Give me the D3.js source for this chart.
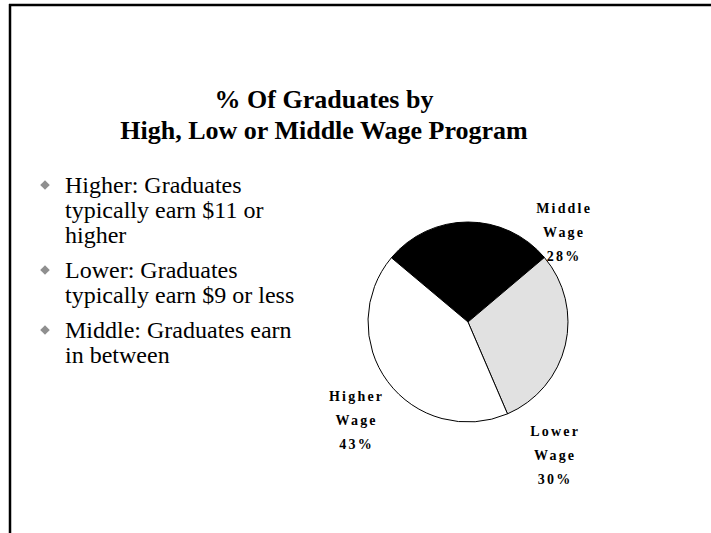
<!DOCTYPE html>
<html>
<head>
<meta charset="utf-8">
<script src="https://cdn.jsdelivr.net/npm/d3@7"></script>
<style>
  html, body { margin: 0; padding: 0; background: #fff; }
  svg { display: block; }
</style>
</head>
<body>
<svg id="chart" width="711" height="533"></svg>
<script>
// ---- data ----
const titleLines = ["% Of Graduates by", "High, Low or Middle Wage Program"];
const categories = ["Middle", "Lower", "Higher"];
const values = [28, 30, 43];
const sliceColors = ["#000000", "#e1e1e1", "#ffffff"];
const bullets = [
  ["Higher: Graduates", "typically earn $11 or", "higher"],
  ["Lower: Graduates", "typically earn $9 or less"],
  ["Middle: Graduates earn", "in between"]
];

const svg = d3.select("#chart");
const serif = "Liberation Serif";

// slide frame (top and left edges)
svg.append("line").attr("x1", 9).attr("x2", 711).attr("y1", 5).attr("y2", 5)
  .attr("stroke", "#000").attr("stroke-width", 2.5);
svg.append("line").attr("x1", 10).attr("x2", 10).attr("y1", 4).attr("y2", 533)
  .attr("stroke", "#000").attr("stroke-width", 2.5);

// title
const title = svg.append("text")
  .attr("text-anchor", "middle")
  .attr("font-family", serif).attr("font-weight", "bold").attr("font-size", 26);
titleLines.forEach((ln, i) => {
  title.append("tspan").attr("x", 324).attr("y", 108 + i * 31).text(ln);
});

// bullets
const bulletG = svg.append("g");
let y = 193;
bullets.forEach(lines => {
  bulletG.append("path")
    .attr("d", d3.symbol().type(d3.symbolSquare).size(46)())
    .attr("transform", `translate(45,${y - 8}) rotate(45)`)
    .attr("fill", "#8f8f8f");
  lines.forEach(ln => {
    bulletG.append("text")
      .attr("x", 65).attr("y", y)
      .attr("font-family", serif).attr("font-size", 24)
      .attr("fill", "#000")
      .text(ln);
    y += 25;
  });
  y += 10;
});

// pie
const cx = 468, cy = 322, r = 100;
const a0 = -50 * Math.PI / 180;
const pie = d3.pie().sort(null).value(d => d.v).startAngle(a0).endAngle(a0 + 2 * Math.PI);
const data = categories.map((c, i) => ({ c, v: values[i], col: sliceColors[i] }));
const arcs = pie(data);
const arc = d3.arc().innerRadius(0).outerRadius(r);
const pieG = svg.append("g").attr("transform", `translate(${cx},${cy})`);
pieG.selectAll("path").data(arcs).join("path")
  .attr("d", arc)
  .attr("fill", d => d.data.col)
  .attr("stroke", "#000").attr("stroke-width", 1);

// labels (placed at label angle/radius around the pie, as on the slide)
const labelPlace = { Middle: [46.5, 131], Lower: [147, 158], Higher: [229, 149] };
arcs.forEach(a => {
  const [angDeg, rad] = labelPlace[a.data.c];
  const ang = angDeg * Math.PI / 180;
  const lx = cx + rad * Math.sin(ang), ly = cy - rad * Math.cos(ang);
  const lines = [a.data.c, "Wage", a.data.v + "%"];
  const t = svg.append("text")
    .attr("text-anchor", "middle")
    .attr("font-family", serif).attr("font-weight", "bold").attr("font-size", 14)
    .attr("letter-spacing", 2.2);
  lines.forEach((ln, i) => {
    t.append("tspan").attr("x", lx + 1.1).attr("y", ly - 24 + 5 + i * 24).text(ln);
  });
});
</script>
</body>
</html>
